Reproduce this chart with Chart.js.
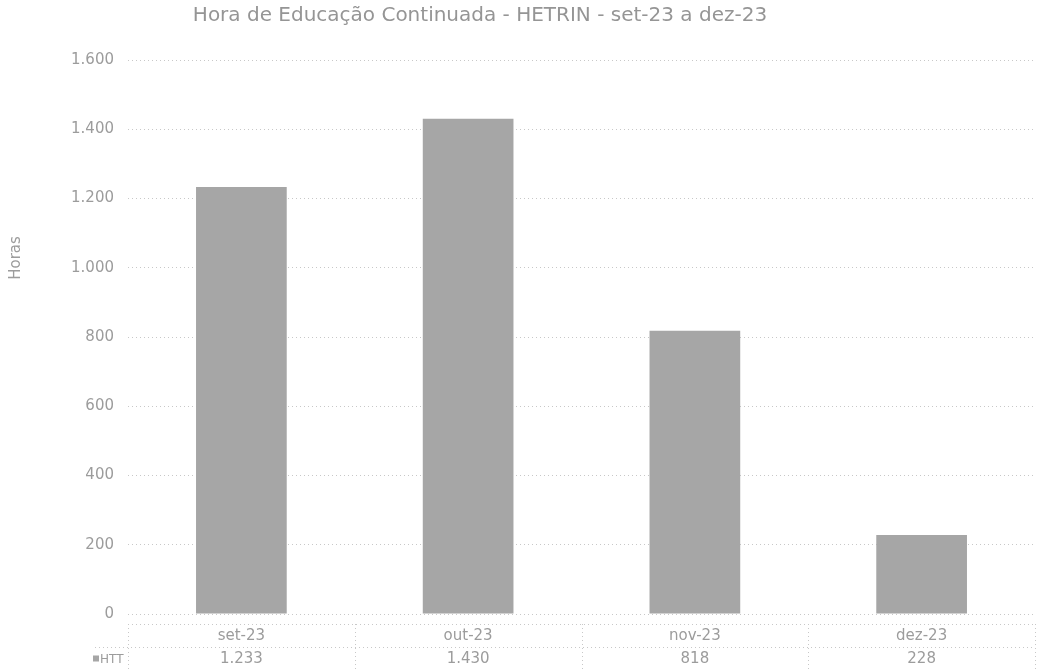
<!DOCTYPE html>
<html>
<head>
<meta charset="utf-8">
<script src="https://cdn.jsdelivr.net/npm/chart.js@4/dist/chart.umd.min.js"></script>
<style>
  html, body { margin: 0; padding: 0; background: #fff; }
  #wrap { position: relative; width: 1037px; height: 670px; }
  #title {
    position: absolute; left: 0; top: 2px; width: 960px; text-align: center;
    font-family: "DejaVu Sans", sans-serif; font-size: 20px; color: #959595;
  }
</style>
</head>
<body>
<div id="wrap">
  <div id="title">Hora de Educação Continuada - HETRIN - set-23 a dez-23</div>
  <canvas id="horas" width="1037" height="670"></canvas>
</div>
<script>
// dados
const meses = ['set-23', 'out-23', 'nov-23', 'dez-23'];
const htt = [1233, 1430, 818, 228];
const serieNome = 'HTT';
const eixoY = 'Horas';

const fonte = '"DejaVu Sans", sans-serif';
const corTexto = '#9c9c9c';
const corGrade = '#c8c8c8';
const corBarra = '#a6a6a6';

function fmt(v) {
    return v.toLocaleString('pt-BR');
}

// tabela de dados abaixo do eixo X + título do eixo Y
const tabelaPlugin = {
    id: 'tabela',
    afterDraw(chart) {
        const ctx = chart.ctx;
        const area = chart.chartArea;
        const x = chart.scales.x;
        const top = area.bottom + 10;
        const rowH = 23;
        const colW = (area.right - area.left) / meses.length;

        ctx.save();
        ctx.strokeStyle = corGrade;
        ctx.lineWidth = 1;
        ctx.setLineDash([1, 3]);
        ctx.beginPath();
        ctx.moveTo(area.left, top + 0.5);
        ctx.lineTo(area.right, top + 0.5);
        ctx.moveTo(95, top + rowH + 0.5);
        ctx.lineTo(area.right, top + rowH + 0.5);
        ctx.moveTo(95, top + 2 * rowH + 0.5);
        ctx.lineTo(area.right, top + 2 * rowH + 0.5);
        for (let i = 0; i <= meses.length; i++) {
            const xx = Math.round(area.left + i * colW) + 0.5;
            ctx.moveTo(xx, top);
            ctx.lineTo(xx, top + 2 * rowH + 4);
        }
        ctx.stroke();
        ctx.setLineDash([]);

        ctx.fillStyle = corTexto;
        ctx.font = '15px ' + fonte;
        ctx.textAlign = 'center';
        ctx.textBaseline = 'middle';
        meses.forEach((m, i) => {
            const cx = x.getPixelForValue(i);
            ctx.fillText(m, cx, top + rowH / 2 + 1);
            ctx.fillText(fmt(htt[i]), cx, top + rowH * 1.5 + 1);
        });

        // cabeçalho da linha com marcador da série
        ctx.fillStyle = corBarra;
        ctx.fillRect(93, top + rowH * 1.5 - 3, 6, 6);
        ctx.fillStyle = corTexto;
        ctx.textAlign = 'left';
        ctx.font = '12px ' + fonte;
        ctx.fillText(serieNome, 100, top + rowH * 1.5 + 1);

        // título do eixo Y
        ctx.translate(16, 258);
        ctx.rotate(-Math.PI / 2);
        ctx.textAlign = 'center';
        ctx.font = '15px ' + fonte;
        ctx.fillText(eixoY, 0, 0);
        ctx.restore();
    }
};

new Chart(document.getElementById('horas'), {
    type: 'bar',
    data: {
        labels: meses,
        datasets: [{
            label: serieNome,
            data: htt,
            backgroundColor: corBarra,
            categoryPercentage: 1,
            barPercentage: 0.4
        }]
    },
    options: {
        responsive: false,
        animation: false,
        layout: { padding: { top: 60, right: 2, left: 0, bottom: 0 } },
        plugins: {
            legend: { display: false },
            tooltip: { enabled: false }
        },
        scales: {
            x: {
                ticks: { display: false },
                grid: { display: false },
                border: { display: false },
                afterFit(scale) { scale.height = 56; }
            },
            y: {
                min: 0,
                max: 1600,
                ticks: {
                    stepSize: 200,
                    padding: 14,
                    color: corTexto,
                    font: { family: fonte, size: 15 },
                    callback: v => fmt(v)
                },
                grid: {
                    color: corGrade,
                    drawTicks: false
                },
                border: { display: false, dash: [1, 3] },
                afterFit(scale) { scale.width = 128; }
            }
        }
    },
    plugins: [tabelaPlugin]
});
</script>
</body>
</html>
